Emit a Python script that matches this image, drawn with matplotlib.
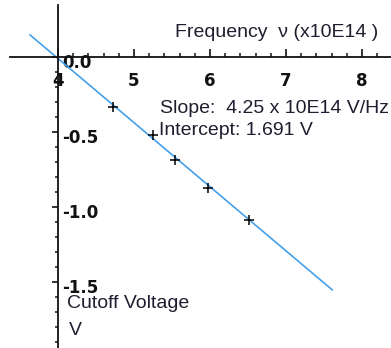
import matplotlib
matplotlib.use("Agg")
import matplotlib.pyplot as plt
from matplotlib.ticker import FixedLocator, FormatStrFormatter
import matplotlib.transforms as mtransforms

# data (frequency in units of 10^14 Hz, cutoff voltage in V)
freq = [4.72, 5.25, 5.54, 5.97, 6.51]
volt = [-0.333, -0.52, -0.687, -0.873, -1.087]
fit_x = [3.63, 7.61]
fit_y = [0.148, -1.553]
x_major = [4, 5, 6, 7, 8]
x_minor = [4.2, 4.4, 4.6, 4.8, 5.2, 5.4, 5.6, 5.8, 6.2, 6.4, 6.6, 6.8,
           7.2, 7.4, 7.6, 7.8, 8.2, 8.4]
y_major = [0.0, -0.5, -1.0, -1.5]
y_minor = [-0.1, -0.2, -0.3, -0.4, -0.6, -0.7, -0.8, -0.9, -1.1, -1.2,
           -1.3, -1.4, -1.6, -1.7, -1.8, -1.9]

FONT = "Liberation Sans"
TXT = "#1e1e30"
FS = 14

fig = plt.figure(figsize=(3.91, 3.48), dpi=100)
ax = fig.add_axes([0, 0, 1, 1])
ax.set_xlim(3.237, 8.382)
ax.set_ylim(-1.94, 0.38)

ax.plot(fit_x, fit_y, color="#44a0ec", lw=1.2, solid_capstyle="round")
ax.plot(freq, volt, linestyle="none", marker="+", ms=7, mew=1.1, color="black")

for s in ["top", "right"]:
    ax.spines[s].set_visible(False)
ax.spines["bottom"].set_position(("data", 0))
ax.spines["left"].set_position(("data", 4))
ax.spines["bottom"].set_bounds(3.37, 8.382)
ax.spines["left"].set_bounds(-1.94, 0.347)
for s in ["bottom", "left"]:
    ax.spines[s].set_linewidth(1.3)
    ax.spines[s].set_color("#111111")

ax.xaxis.set_major_locator(FixedLocator(x_major))
ax.xaxis.set_minor_locator(FixedLocator(x_minor))
ax.yaxis.set_major_locator(FixedLocator(y_major))
ax.yaxis.set_minor_locator(FixedLocator(y_minor))
ax.xaxis.set_major_formatter(FormatStrFormatter("%d"))
ax.yaxis.set_major_formatter(FormatStrFormatter("%.1f"))

ax.tick_params(axis="x", which="major", direction="in", length=6, width=1.2,
               pad=10.5, labelsize=12, colors="#111111")
ax.tick_params(axis="x", which="minor", direction="in", length=3, width=1.1,
               colors="#111111")
ax.tick_params(axis="y", which="major", direction="out", length=4.3, width=1.2,
               pad=-7.2, labelsize=12, colors="#111111")
ax.tick_params(axis="y", which="minor", direction="out", length=2.2, width=1.1,
               colors="#111111")

shift = mtransforms.ScaledTranslation(0, -4 / 100, fig.dpi_scale_trans)
for lab in ax.get_yticklabels():
    lab.set_horizontalalignment("left")
    lab.set_fontweight("bold")
    lab.set_fontfamily("DejaVu Sans")
    lab.set_transform(lab.get_transform() + shift)
for lab in ax.get_xticklabels():
    lab.set_fontweight("bold")
    lab.set_fontfamily("DejaVu Sans")

def px(x, y):
    return (x / 391.0, 1 - y / 348.0)

fig.text(*px(175, 37), "Frequency  \u03bd (x10E14 )", fontsize=FS, family=FONT,
         color=TXT, va="baseline", ha="left")
fig.text(*px(160, 113), "Slope:  4.25 x 10E14 V/Hz", fontsize=FS, family=FONT,
         color=TXT, va="baseline", ha="left")
fig.text(*px(159, 135), "Intercept: 1.691 V", fontsize=FS, family=FONT,
         color=TXT, va="baseline", ha="left")
fig.text(*px(67, 308), "Cutoff Voltage", fontsize=FS, family=FONT,
         color=TXT, va="baseline", ha="left")
fig.text(*px(69, 335), "V", fontsize=FS, family=FONT,
         color=TXT, va="baseline", ha="left")

fig.savefig("out.png", dpi=100)
